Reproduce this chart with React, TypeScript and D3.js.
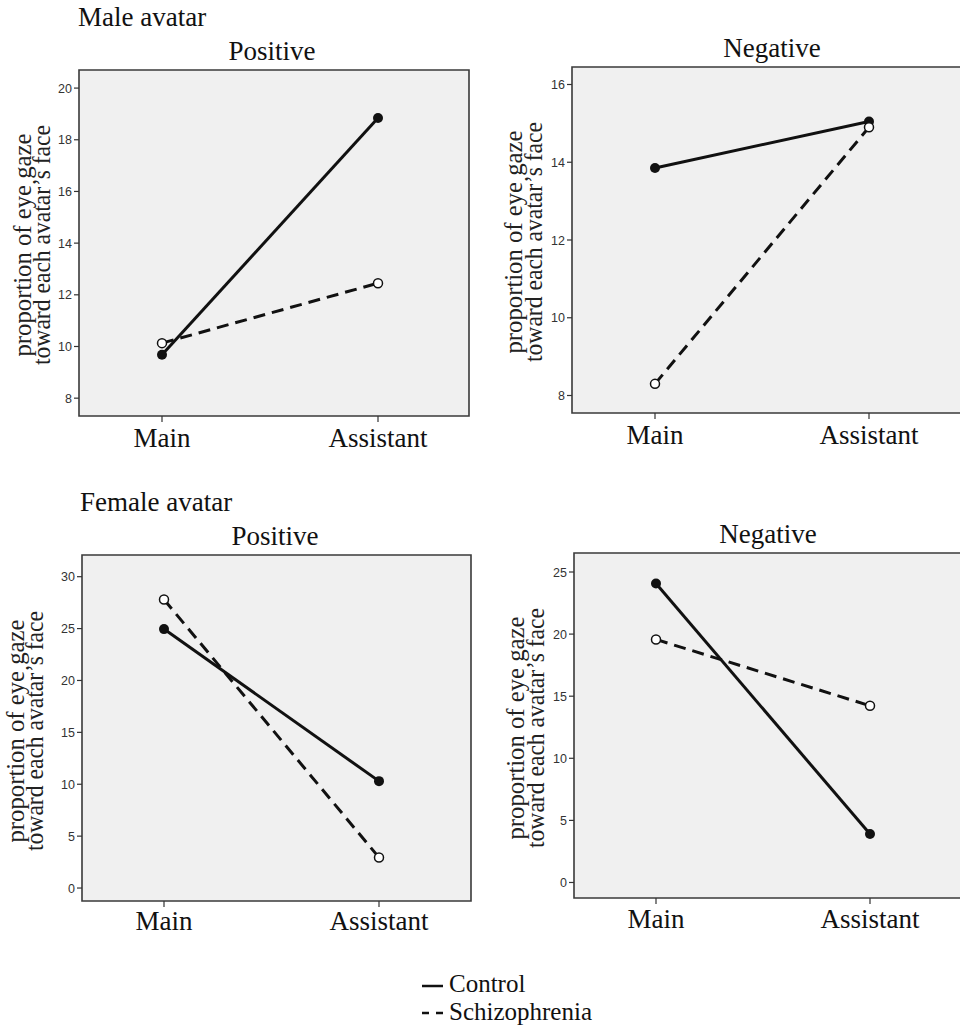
import React from "react";
import * as d3 from "d3";

const conditions = ["Main", "Assistant"];
const groups = ["Control", "Schizophrenia"];

const maleControlPositive = [9.68, 18.84];
const maleSchizoPositive = [10.13, 12.45];
const maleControlNegative = [13.85, 15.05];
const maleSchizoNegative = [8.3, 14.9];
const femaleControlPositive = [24.95, 10.3];
const femaleSchizoPositive = [27.8, 2.94];
const femaleControlNegative = [24.07, 3.9];
const femaleSchizoNegative = [19.57, 14.23];

const maleTicksPositive = [8, 10, 12, 14, 16, 18, 20];
const maleTicksNegative = [8, 10, 12, 14, 16];
const femaleTicksPositive = [0, 5, 10, 15, 20, 25, 30];
const femaleTicksNegative = [0, 5, 10, 15, 20, 25];

const yLabel1 = "proportion of eye gaze";
const yLabel2 = "toward each avatar\u2019s face";

type PanelSpec = {
  title: string;
  titleX: number;
  titleY: number;
  left: number;
  right: number;
  top: number;
  bottom: number;
  domain: [number, number];
  ticks: number[];
  xMain: number;
  xAsst: number;
  control: number[];
  schizo: number[];
  ylab1X: number;
  ylab2X: number;
  ylabY: number;
  xlabY: number;
  drawRight: boolean;
};

const panels: PanelSpec[] = [
  {
    title: "Positive", titleX: 272, titleY: 60,
    left: 79, right: 469, top: 70, bottom: 416,
    domain: [7.31, 20.7], ticks: maleTicksPositive,
    xMain: 162, xAsst: 378,
    control: maleControlPositive, schizo: maleSchizoPositive,
    ylab1X: 31, ylab2X: 50, ylabY: 245, xlabY: 447, drawRight: true,
  },
  {
    title: "Negative", titleX: 772, titleY: 57,
    left: 572, right: 975, top: 67, bottom: 413,
    domain: [7.55, 16.45], ticks: maleTicksNegative,
    xMain: 655, xAsst: 869,
    control: maleControlNegative, schizo: maleSchizoNegative,
    ylab1X: 522, ylab2X: 542, ylabY: 242, xlabY: 444, drawRight: false,
  },
  {
    title: "Positive", titleX: 275, titleY: 545,
    left: 82, right: 471, top: 555, bottom: 901,
    domain: [-1.25, 32.09], ticks: femaleTicksPositive,
    xMain: 164, xAsst: 379,
    control: femaleControlPositive, schizo: femaleSchizoPositive,
    ylab1X: 24, ylab2X: 43, ylabY: 731, xlabY: 930, drawRight: true,
  },
  {
    title: "Negative", titleX: 768, titleY: 543,
    left: 574, right: 975, top: 553, bottom: 898,
    domain: [-1.25, 26.53], ticks: femaleTicksNegative,
    xMain: 656, xAsst: 870,
    control: femaleControlNegative, schizo: femaleSchizoNegative,
    ylab1X: 524, ylab2X: 544, ylabY: 728, xlabY: 928, drawRight: false,
  },
];

const serif = "'Liberation Serif', 'Times New Roman', serif";
const sans = "'Liberation Sans', Arial, sans-serif";

function Panel({ p }: { p: PanelSpec }) {
  const x = d3.scalePoint<string>().domain(conditions).range([p.xMain, p.xAsst]);
  const y = d3.scaleLinear().domain(p.domain).range([p.bottom, p.top]);
  const line = d3
    .line<number>()
    .x((_, i) => x(conditions[i]) as number)
    .y((d) => y(d));
  const right = Math.min(p.right, 960);
  return (
    <g>
      <text x={p.titleX} y={p.titleY} textAnchor="middle" fontFamily={serif} fontSize={27} fill="#111">
        {p.title}
      </text>
      <rect x={p.left} y={p.top} width={right - p.left + (p.drawRight ? 0 : 5)} height={p.bottom - p.top} fill="#f0f0f0" />
      <path
        d={
          p.drawRight
            ? `M${p.left},${p.top}H${p.right}V${p.bottom}H${p.left}Z`
            : `M${p.right},${p.top}H${p.left}V${p.bottom}H${p.right}`
        }
        fill="none"
        stroke="#3a3a3a"
        strokeWidth={1.6}
      />
      {p.ticks.map((t) => (
        <g key={t}>
          <line x1={p.left - 5} x2={p.left} y1={y(t)} y2={y(t)} stroke="#333" strokeWidth={1.2} />
          <text x={p.left - 7} y={y(t)} dy="0.36em" textAnchor="end" fontFamily={sans} fontSize={12.5} fill="#333">
            {t}
          </text>
        </g>
      ))}
      {conditions.map((c) => (
        <g key={c}>
          <line x1={x(c)} x2={x(c)} y1={p.bottom} y2={p.bottom + 6} stroke="#333" strokeWidth={1.2} />
          <text x={x(c)} y={p.xlabY} textAnchor="middle" fontFamily={serif} fontSize={27} fill="#111">
            {c}
          </text>
        </g>
      ))}
      <g transform={`translate(${p.ylab1X},${p.ylabY}) rotate(-90)`}>
        <text textAnchor="middle" fontFamily={serif} fontSize={26} fill="#222" textLength={223} lengthAdjust="spacingAndGlyphs">
          {yLabel1}
        </text>
      </g>
      <g transform={`translate(${p.ylab2X},${p.ylabY}) rotate(-90)`}>
        <text textAnchor="middle" fontFamily={serif} fontSize={26} fill="#222" textLength={240} lengthAdjust="spacingAndGlyphs">
          {yLabel2}
        </text>
      </g>
      <path d={line(p.schizo) || ""} fill="none" stroke="#111" strokeWidth={3} strokeDasharray="12,7" />
      <path d={line(p.control) || ""} fill="none" stroke="#111" strokeWidth={3} />
      {p.control.map((v, i) => (
        <circle key={"c" + i} cx={x(conditions[i])} cy={y(v)} r={5} fill="#111" />
      ))}
      {p.schizo.map((v, i) => (
        <circle key={"s" + i} cx={x(conditions[i])} cy={y(v)} r={4.5} fill="#fff" stroke="#111" strokeWidth={1.5} />
      ))}
    </g>
  );
}

export default function App() {
  return (
    <svg
      width={960}
      height={1029}
      style={{ position: "absolute", left: 0, top: 0, background: "#fff" }}
    >
      <rect x={0} y={0} width={960} height={1029} fill="#fff" />
      <text x={78} y={26} fontFamily={serif} fontSize={27} fill="#111">
        Male avatar
      </text>
      <text x={80} y={511} fontFamily={serif} fontSize={27} fill="#111">
        Female avatar
      </text>
      {panels.map((p, i) => (
        <Panel key={i} p={p} />
      ))}
      <g>
        <line x1={422} x2={443} y1={986} y2={986} stroke="#111" strokeWidth={2.5} />
        <text x={449} y={992} fontFamily={serif} fontSize={25} fill="#111">
          {groups[0]}
        </text>
        <line x1={422} x2={443} y1={1013} y2={1013} stroke="#111" strokeWidth={2.5} strokeDasharray="7,7" />
        <text x={449} y={1020} fontFamily={serif} fontSize={25} fill="#111">
          {groups[1]}
        </text>
      </g>
    </svg>
  );
}
